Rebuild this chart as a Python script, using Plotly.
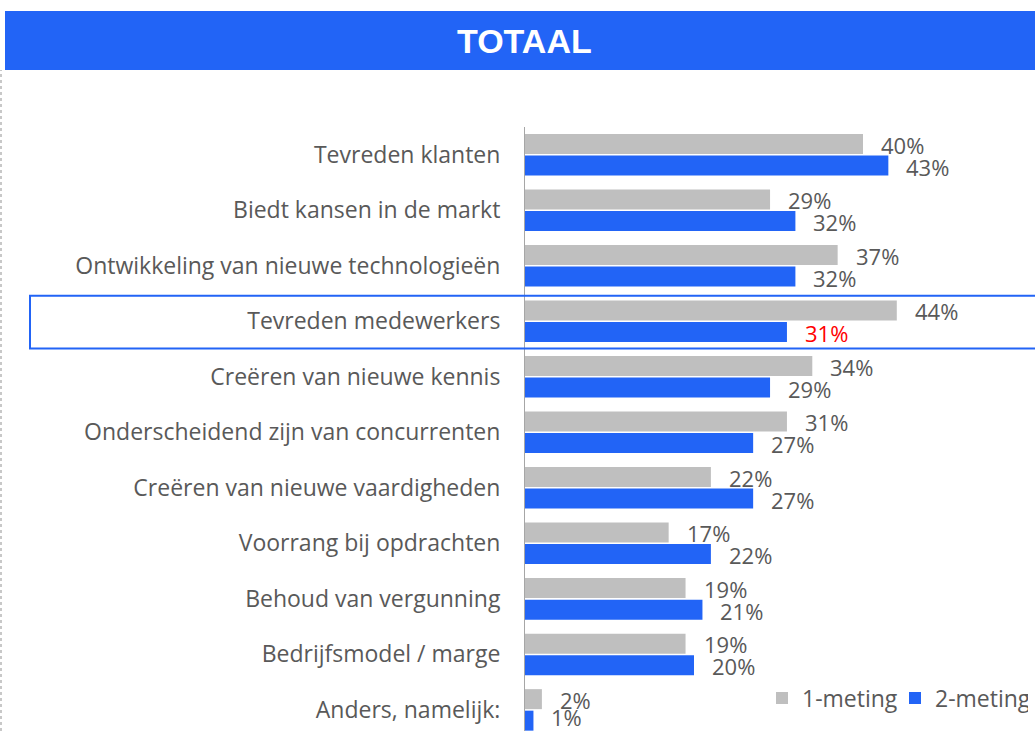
import plotly.graph_objects as go

categories = [
    "Tevreden klanten",
    "Biedt kansen in de markt",
    "Ontwikkeling van nieuwe technologieën",
    "Tevreden medewerkers",
    "Creëren van nieuwe kennis",
    "Onderscheidend zijn van concurrenten",
    "Creëren van nieuwe vaardigheden",
    "Voorrang bij opdrachten",
    "Behoud van vergunning",
    "Bedrijfsmodel / marge",
    "Anders, namelijk:",
]
meting1 = [40, 29, 37, 44, 34, 31, 22, 17, 19, 19, 2]
meting2 = [43, 32, 32, 31, 29, 27, 27, 22, 21, 20, 1]
series_names = ["1-meting", "2-meting"]
highlight_category = "Tevreden medewerkers"
title_text = "TOTAAL"

W, H = 1035, 731
GRAY = "#BFBFBF"
BLUE = "#2264F6"
TXT = "#595959"
RED = "#FF0000"
FONT = "Open Sans"

fig = go.Figure()
fig.add_bar(y=categories, x=meting1, orientation="h", name=series_names[0],
            marker=dict(color=GRAY, line=dict(width=0)))
fig.add_bar(y=categories, x=meting2, orientation="h", name=series_names[1],
            marker=dict(color=BLUE, line=dict(width=0)))

annotations = []
last = categories[-1]
for cat, v1, v2 in zip(categories, meting1, meting2):
    annotations.append(dict(x=v1, y=cat, xref="x", yref="y", text=f"{v1}%",
                            showarrow=False, xanchor="left", yanchor="middle",
                            xshift=16, yshift=10,
                            font=dict(family=FONT, size=22, color=TXT)))
    annotations.append(dict(x=v2, y=cat, xref="x", yref="y", text=f"{v2}%",
                            showarrow=False, xanchor="left", yanchor="middle",
                            xshift=16, yshift=-7 if cat == last else -12,
                            font=dict(family=FONT, size=22,
                                      color=RED if cat == highlight_category else TXT)))

annotations.append(dict(x=524 / W, y=1 - 40.5 / H, xref="paper", yref="paper",
                        text=f"<b>{title_text}</b>", showarrow=False,
                        xanchor="center", yanchor="middle",
                        font=dict(family="Liberation Sans", size=34, color="white")))

hi_idx = categories.index(highlight_category)

shapes = [
    dict(type="rect", xref="paper", yref="paper", x0=5 / W, x1=1.0,
         y0=1 - 70 / H, y1=1 - 11 / H, fillcolor=BLUE, line=dict(width=0), layer="below"),
    dict(type="line", xref="paper", yref="paper", x0=0.5 / W, x1=0.5 / W,
         y0=0, y1=1 - 70 / H, line=dict(color="#C8C8C8", width=3, dash="dot")),
    dict(type="rect", xref="paper", yref="y", x0=30 / W, x1=1.01,
         y0=hi_idx - 0.46, y1=hi_idx + 0.49, line=dict(color=BLUE, width=2),
         fillcolor="rgba(0,0,0,0)"),
]

fig.update_layout(
    width=W, height=H,
    margin=dict(l=0, r=0, t=0, b=0, autoexpand=False),
    paper_bgcolor="white", plot_bgcolor="white",
    barmode="group", bargap=0.225, bargroupgap=0.07,
    showlegend=True,
    legend=dict(orientation="h", x=762 / W, y=1 - 698 / H, xanchor="left", yanchor="middle",
                font=dict(family=FONT, size=23, color=TXT), traceorder="normal",
                bgcolor="rgba(0,0,0,0)", itemwidth=30, entrywidth=88,
                entrywidthmode="pixels"),
    xaxis=dict(domain=[525 / W, 1032 / W], range=[0, 60], showgrid=False,
               zeroline=False, showticklabels=False, ticks="", showline=False),
    yaxis=dict(domain=[0, 1 - 127 / H], range=[10.38, -0.5], showgrid=False,
               zeroline=False, showline=True, linecolor="#A6A6A6", linewidth=1,
               ticks="", ticklabelstandoff=19, automargin=False,
               tickfont=dict(family=FONT, size=23, color=TXT)),
    annotations=annotations,
    shapes=shapes,
    font=dict(family=FONT, color=TXT),
)

fig.write_html("out.html", config={"displayModeBar": False},
               post_script="document.body.style.margin='0px';document.body.style.overflow='hidden';")
